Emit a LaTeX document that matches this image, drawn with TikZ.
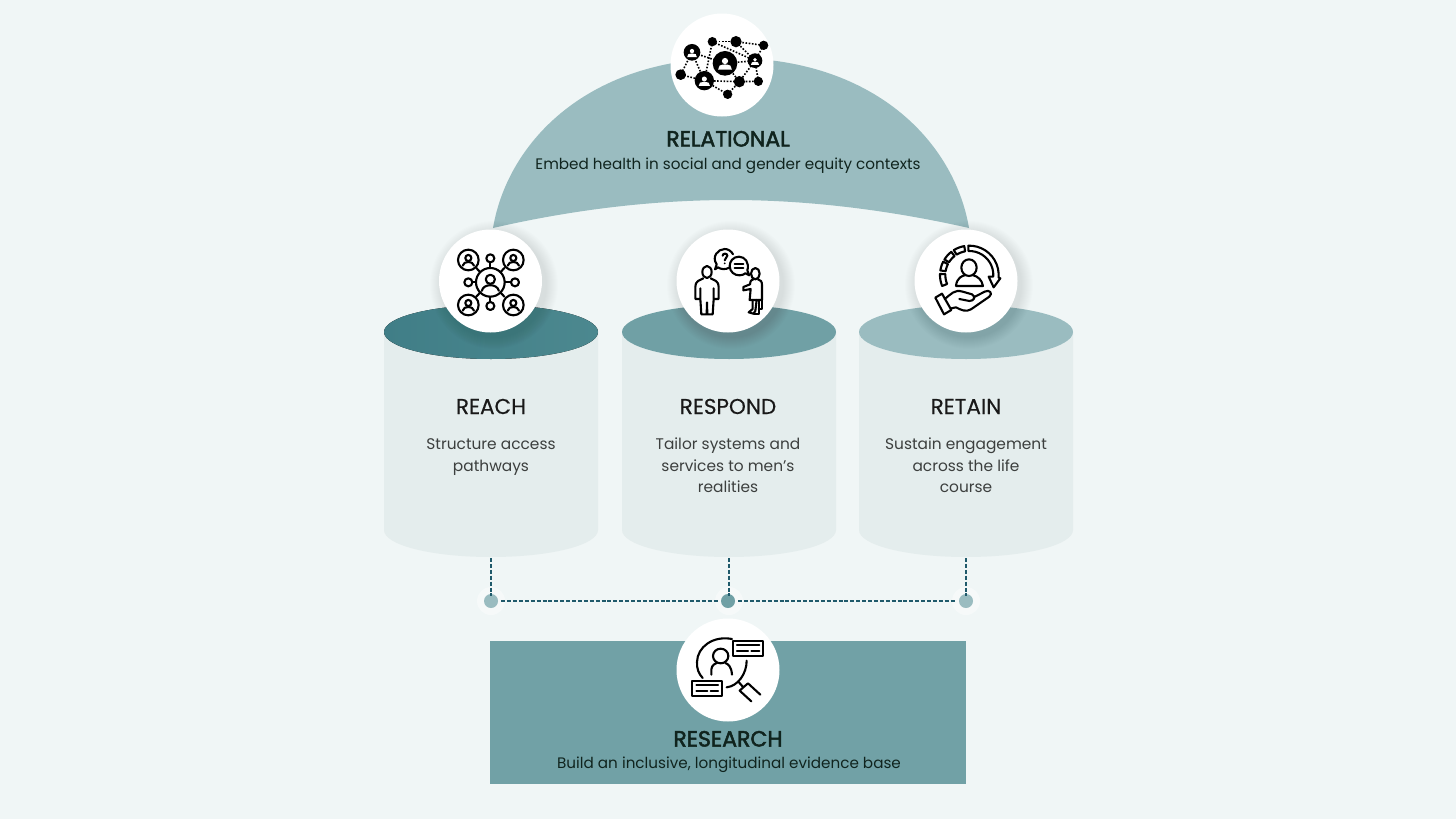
\documentclass[tikz,border=0pt]{standalone}
\usepackage{fontspec}
\setmainfont{Poppins}
\newfontfamily\medfont[FakeBold=0.35]{Poppins}
\newfontfamily\semifont[FakeBold=2.2]{Poppins}
\definecolor{bg}{HTML}{F0F6F6}
\definecolor{dome}{HTML}{9ABCC0}
\definecolor{body}{HTML}{E4EDED}
\definecolor{capAl}{HTML}{407E87}
\definecolor{capAr}{HTML}{4C888F}
\definecolor{capB}{HTML}{70A0A5}
\definecolor{capC}{HTML}{9ABCC0}
\definecolor{rsch}{HTML}{71A1A6}
\definecolor{dashc}{HTML}{1F5A6B}
\definecolor{dark}{HTML}{10241E}
\definecolor{grey}{HTML}{3C3F3E}
\tikzset{
  x=1pt,y=-1pt,
  disc/.style={circle,fill=white,minimum size=103pt,inner sep=0pt},
  title/.style={font=\fontsize{22}{22}\semifont,text=dark,inner sep=0pt,anchor=base},
  ptitle/.style={font=\fontsize{21.5}{21.5}\medfont,text=black!90,inner sep=0pt,anchor=base},
  sub/.style={font=\fontsize{15.2}{15.2}\selectfont,text=dark,inner sep=0pt,anchor=base},
  ptext/.style={font=\fontsize{15.4}{21.5}\selectfont,text=grey,align=center,inner sep=0pt,anchor=north},
  dot/.style={circle,minimum size=14pt,inner sep=0pt},
  link/.style={dashc,line width=1.2pt,dash pattern=on 4pt off 1.9pt},
  ico/.style={line width=2.1pt,line join=round,line cap=round,black},
  icon/.style={x=.3333pt,y=-.3333pt},
  netlink/.style={black,line width=1.6pt,dash pattern=on 1.6pt off 1.6pt},
}
\newcommand{\softshadow}[3]{%
  \foreach \k in {0,...,11}{\fill[black,opacity=.009] (#1+3,#2+4) circle ({#3+12-\k});}}
\newcommand{\cylbody}[1]{%
  \fill[body] (#1-107,332) -- (#1-107,530) .. controls (#1-107,545) and (#1-60,557) .. (#1,557) .. controls (#1+60,557) and (#1+107,545) .. (#1+107,530) -- (#1+107,332) -- cycle;
}
\newcommand{\miniperson}[3]{% cx cy scale: outline person
  \draw[ico] (#1,#2-#3*.3) circle ({#3*.46});
  \draw[ico] (#1-#3*.85,#2+#3*.85) .. controls (#1-#3*.7,#2+#3*.1) and (#1+#3*.7,#2+#3*.1) .. (#1+#3*.85,#2+#3*.85);
}
\newcommand{\whiteperson}[3]{% cx cy scale: filled white person
  \fill[white] (#1,#2-#3*.38) circle ({#3*.36});
  \fill[white] (#1-#3*.8,#2+#3*.62) -- (#1-#3*.62,#2+#3*.14) .. controls (#1-#3*.25,#2-#3*.03) and (#1+#3*.25,#2-#3*.03) .. (#1+#3*.62,#2+#3*.14) -- (#1+#3*.8,#2+#3*.62) -- cycle;
}
\begin{document}
\begin{tikzpicture}
\useasboundingbox (0,0) rectangle (1456,819);
\fill[bg] (0,0) rectangle (1456,819);

% dome
\path[fill=dome] (493,228) .. controls (508,140) and (590,58) .. (731,58)
  .. controls (872,58) and (954,140) .. (969,228)
  .. controls (880,208) and (800,200) .. (731,200)
  .. controls (660,200) and (580,208) .. (493,228) -- cycle;

% cylinders
\cylbody{491}
\cylbody{729}
\cylbody{966}
\fill[left color=capAl,right color=capAr] (491,332) ellipse[x radius=107,y radius=27];
\fill[capB] (729,332) ellipse[x radius=107,y radius=27];
\fill[capC] (966,332) ellipse[x radius=107,y radius=27];
\coordinate (baseA) at (491,558);
\coordinate (baseB) at (729,558);
\coordinate (baseC) at (966,558);

% research box
\fill[rsch] (490,641) rectangle (966,784);

% dots
\fill[white,opacity=.4] (491,601) circle (14);
\fill[white,opacity=.4] (729,601) circle (14);
\fill[white,opacity=.4] (966,601) circle (14);
\node[dot,fill=capC] (dotA) at (491,601) {};
\node[dot,fill=capB] (dotB) at (728,601) {};
\node[dot,fill=capC] (dotC) at (966,601) {};
\draw[link] (baseA) -- ([yshift=-2pt]dotA.north);
\draw[link] (baseB) -- ([yshift=-2pt,xshift=1pt]dotB.north);
\draw[link] (baseC) -- ([yshift=-2pt]dotC.north);
\draw[link,shorten <=3pt,shorten >=3pt] (dotA) -- (dotB);
\draw[link,shorten <=3pt,shorten >=3pt] (dotB) -- (dotC);

% discs
\softshadow{491}{281}{52}
\softshadow{728}{281}{52}
\softshadow{966}{281}{52}
\node[disc] (discTop) at (722,65) {};
\node[disc] (discA) at (490.5,281) {};
\node[disc] (discB) at (728,281) {};
\node[disc] (discC) at (966,281) {};
\node[disc] (discR) at (728,670) {};

% text
\node[title] (relT) at (728,146.5) {RELATIONAL};
\node[sub] (relS) at (728,169) {Embed health in social and gender equity contexts};
\node[ptitle] (aT) at (491,414) {REACH};
\node[ptitle] (bT) at (728,414) {RESPOND};
\node[ptitle] (cT) at (966,414) {RETAIN};
\node[ptext] (aP) at (491,438.5) {Structure access\\pathways};
\node[ptext] (bP) at (728,438) {Tailor systems and\\services to men’s\\realities};
\node[ptext] (cP) at (966,438) {Sustain engagement\\across the life\\course};
\node[title] (rT) at (728,746.5) {RESEARCH};
\node[sub] (rS) at (729,768.5) {Build an inclusive, longitudinal evidence base};

% network icon
\begin{scope}[shift={(660,5)},icon]
 \foreach \n/\x/\y in {pa/96/142,pb/133/227,pc/195/175,pd/285/167,na/157/110,nb/228/110,nc/311/121,nd/62/209,ne/238/230,nf/295/229,ng/203/268}
   \coordinate (\n) at (\x,\y);
 \foreach \u/\v in {pa/pb,pa/nd,pb/nd,pa/pc,na/pb,na/nb,nb/nc,na/pd,nb/pd,nc/pd,pc/pd,pd/ne,pd/nf,ne/nf,pb/ne,pb/ng,ng/ne,pc/ne}
   \draw[netlink] (\u) -- (\v);
 \fill (pa) circle (25); \fill (pb) circle (29); \fill (pc) circle (37); \fill (pd) circle (22);
 \fill (na) circle (14); \fill (nb) circle (17); \fill (nc) circle (14); \fill (nd) circle (16);
 \fill (ne) circle (17); \fill (nf) circle (14); \fill (ng) circle (14);
 \whiteperson{96}{145}{18}
 \whiteperson{133}{230}{21}
 \whiteperson{195}{178}{26}
 \whiteperson{285}{170}{15}
\end{scope}

% reach icon
\begin{scope}[shift={(430,225)},icon]
 \draw[ico] (181,172) circle (43);
 \foreach \x/\y in {115/105,250/105,115/240,250/240}{
   \draw[ico] (\x,\y) circle (31);
   \miniperson{\x}{\y}{20}
 }
 \miniperson{181}{172}{30}
 \draw[ico] (181,100) circle (12);
 \draw[ico] (181,243) circle (12);
 \draw[ico] (115,172) circle (12);
 \draw[ico] (255,172) circle (12);
 \draw[ico] (181,112) -- (181,129); \draw[ico] (181,215) -- (181,231);
 \draw[ico] (127,172) -- (138,172); \draw[ico] (224,172) -- (243,172);
 \draw[ico] (139,129) -- (150,141); \draw[ico] (223,129) -- (212,141);
 \draw[ico] (139,215) -- (150,203); \draw[ico] (223,215) -- (212,203);
\end{scope}

% respond icon
\begin{scope}[shift={(668,225)},icon]
 % left person
 \draw[ico] (117,141) ellipse[x radius=14,y radius=18];
 \draw[ico] (106,160) -- (90,168) .. controls (84,172) and (82,178) .. (82,186) -- (82,222) -- (97,222) -- (97,190)
   (97,222) -- (100,268) -- (116,268) -- (117,232) -- (118,268) -- (134,268) -- (137,222) -- (137,190)
   (137,222) -- (152,222) -- (152,186) .. controls (152,178) and (150,172) .. (144,168) -- (128,160);
 % right person
 \draw[ico] (262,146) ellipse[x radius=13,y radius=17];
 \draw[ico] (256,163) .. controls (246,166) and (247,172) .. (246,178) -- (226,186) -- (226,196) -- (248,192) -- (245,225) -- (282,225) -- (282,180) .. controls (282,170) and (278,164) .. (270,163);
 \draw[ico] (254,225) -- (254,252) -- (242,262) -- (256,266) -- (262,258) -- (266,225);
 \draw[ico] (272,225) -- (272,268) -- (258,268) (272,252) -- (282,252) -- (282,225);
 % bubbles
 \draw[ico] (150,127) -- (141,133) -- (146,118) .. controls (130,95) and (150,72) .. (170,72) .. controls (180,72) and (190,78) .. (195,88)
   (184,128) .. controls (172,134) and (160,134) .. (150,127);
 \draw[ico] (213,95) .. controls (195,95) and (185,110) .. (185,123) .. controls (185,140) and (200,152) .. (215,151) .. controls (222,151) and (228,148) .. (232,145) -- (244,151) -- (238,136) .. controls (245,115) and (232,95) .. (213,95) -- cycle;
 \draw[ico] (200,117) -- (226,117) (200,130) -- (226,130);
 \draw[ico] (164,92) .. controls (164,84) and (178,84) .. (178,92) .. controls (178,98) and (170,100) .. (170,106);
 \fill (170,115) circle (3);
\end{scope}

% retain icon
\begin{scope}[shift={(906,225)},icon]
 \foreach \a/\b in {100/122,128/148,153/171,178/202}
   \draw[ico] plot[domain=\a:\b,samples=6] ({190+88*cos(\x)},{150-88*sin(\x)}) -- plot[domain=\b:\a,samples=6] ({190+72*cos(\x)},{150-72*sin(\x)}) -- cycle;
 \draw[ico] plot[domain=92:-5,samples=12] ({190+88*cos(\x)},{150-88*sin(\x)}) -- (283,160) -- (263,187) -- (248,155) -- (261,155) -- plot[domain=-2:92,samples=12] ({190+72*cos(\x)},{150-72*sin(\x)}) -- cycle;
 \draw[ico] (189,128) ellipse[x radius=23,y radius=25];
 \draw[ico] (150,183) .. controls (152,158) and (170,152) .. (176,151) (202,151) .. controls (215,154) and (228,165) .. (231,183) -- (150,183);
 \draw[ico] (88,218) -- (108,206) -- (136,255) -- (114,268) -- cycle;
 \draw[ico] (116,222) .. controls (135,208) and (145,192) .. (170,200) -- (198,208) .. controls (210,215) and (205,228) .. (190,228) -- (160,222);
 \draw[ico] (136,250) -- (150,247) .. controls (165,255) and (180,262) .. (195,253) -- (250,215) .. controls (262,205) and (250,192) .. (236,200) -- (205,216);
\end{scope}

% research icon
\begin{scope}[shift={(668,612)},icon]
 \draw[ico] (192,81) .. controls (135,70) and (88,105) .. (87,150) .. controls (86,170) and (92,185) .. (104,198);
 \draw[ico] (236,146) .. controls (236,185) and (210,222) .. (176,226);
 \draw[ico] (158,132) ellipse[x radius=23,y radius=22];
 \draw[ico] (130,188) -- (130,172) .. controls (132,158) and (142,155) .. (146,153) (172,153) .. controls (180,156) and (190,162) .. (192,188);
 \draw[ico] (212,210) -- (226,226) (226,226) -- (215,236) -- (250,268) (277,248) -- (240,214) -- (226,226);
 \draw[ico,line width=2.3pt] (195,88) rectangle (286,133);
 \draw[ico] (207,100) -- (274,100) (207,118) -- (240,118) (250,118) -- (274,118);
 \draw[ico,line width=2.3pt] (73,206) rectangle (163,251);
 \draw[ico] (85,220) -- (150,220) (85,236) -- (118,236) (128,236) -- (150,236);
\end{scope}
\end{tikzpicture}
\end{document}
